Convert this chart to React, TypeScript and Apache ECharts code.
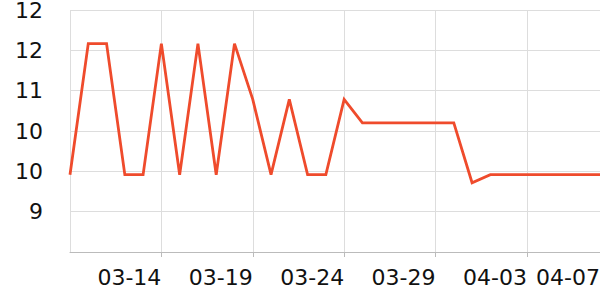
import React, { useEffect, useRef } from "react";
import * as echarts from "echarts";

const categories: string[] = [
  "03-09", "03-10", "03-11", "03-12", "03-13", "03-14", "03-15", "03-16", "03-17", "03-18",
  "03-19", "03-20", "03-21", "03-22", "03-23", "03-24", "03-25", "03-26", "03-27", "03-28",
  "03-29", "03-30", "03-31", "04-01", "04-02", "04-03", "04-04", "04-05", "04-06", "04-07",
];

const values: number[] = [
  9.75, 11.7, 11.7, 9.75, 9.75, 11.7, 9.75, 11.7, 9.75, 11.7,
  10.87, 9.75, 10.87, 9.75, 9.75, 10.87, 10.52, 10.52, 10.52, 10.52,
  10.52, 10.52, 9.63, 9.75, 9.75, 9.75, 9.75, 9.75, 9.75, 9.75,
];

const yMin = 8.6;
const yMax = 12.2;
const yInterval = 0.6;

export default function App() {
  const ref = useRef<HTMLDivElement>(null);
  useEffect(() => {
    if (!ref.current) return;
    const chart = echarts.init(ref.current, null, { renderer: "svg" });
    chart.setOption({
      animation: false,
      grid: {
        left: 70,
        right: 0,
        top: 10,
        bottom: 48,
        containLabel: false,
        outerBoundsMode: "none",
      },
      xAxis: {
        type: "category",
        data: categories,
        boundaryGap: false,
        axisLine: { lineStyle: { color: "#bbbbbb" } },
        axisTick: { interval: 4, lineStyle: { color: "#bbbbbb" } },
        axisLabel: {
          interval: 4,
          showMinLabel: false,
          showMaxLabel: true,
          align: "right",
          margin: 14,
          fontSize: 22,
          color: "#111",
          fontFamily: "DejaVu Sans",
        },
        splitLine: { show: true, interval: 4, lineStyle: { color: "#dddddd" } },
      },
      yAxis: {
        type: "value",
        min: yMin,
        max: yMax,
        interval: yInterval,
        axisLine: { show: false },
        axisTick: { show: false },
        axisLabel: {
          showMinLabel: false,
          margin: 27,
          fontSize: 22,
          color: "#111",
          fontFamily: "DejaVu Sans",
          formatter: (v: number) => v.toFixed(0),
        },
        splitLine: { lineStyle: { color: "#dddddd" } },
      },
      series: [
        {
          type: "line",
          data: values,
          showSymbol: false,
          symbol: "none",
          lineStyle: { color: "#ef4b2c", width: 2.8, join: "miter" },
          itemStyle: { color: "#ef4b2c" },
        },
      ],
    });
    return () => chart.dispose();
  }, []);
  return (
    <div
      ref={ref}
      style={{ position: "fixed", left: 0, top: 0, width: 600, height: 300, background: "#fff" }}
    />
  );
}
